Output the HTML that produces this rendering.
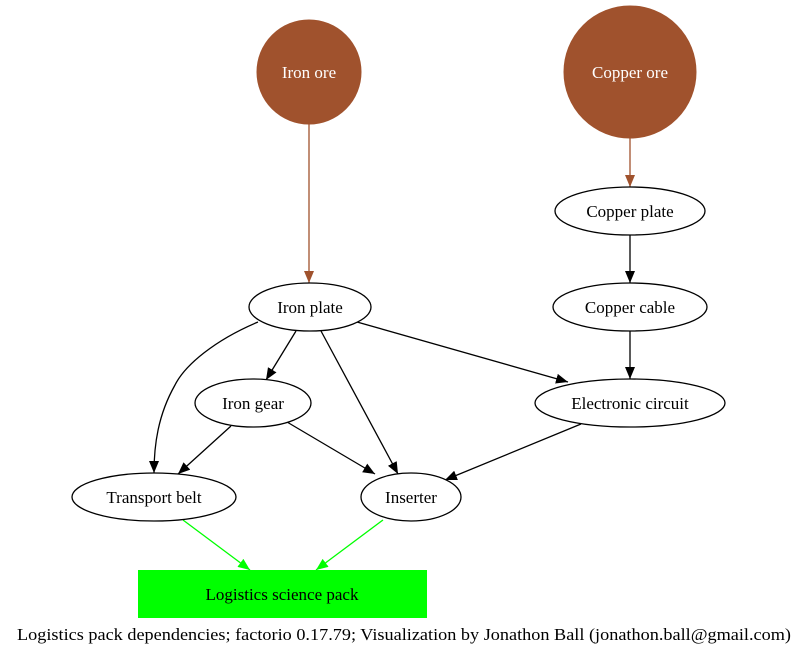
<!DOCTYPE html>
<html><head><meta charset="utf-8"><style>body{margin:0;background:#fff}svg{display:block}text{font-family:"Liberation Serif",serif;font-size:17px}</style></head>
<body>
<svg width="808" height="655" viewBox="0 0 808 655">
<defs>
<marker id="k" markerWidth="14" markerHeight="12" refX="12" refY="5" orient="auto" markerUnits="userSpaceOnUse"><path d="M0,0 L12,5 L0,10Z" fill="#000"/></marker>
<marker id="b" markerWidth="14" markerHeight="12" refX="12" refY="5" orient="auto" markerUnits="userSpaceOnUse"><path d="M0,0 L12,5 L0,10Z" fill="#a0522d"/></marker>
<marker id="g" markerWidth="14" markerHeight="12" refX="12" refY="5" orient="auto" markerUnits="userSpaceOnUse"><path d="M0,0 L12,5 L0,10Z" fill="#00ff00"/></marker>
</defs>
<g fill="none" stroke="#000" stroke-width="1.3" marker-end="url(#k)">
<path d="M630,235 L630,283"/>
<path d="M630,331 L630,379"/>
<path d="M296,331 L266,380"/>
<path d="M258,322 C215,340 185,365 175,385 C158,415 154,445 154,473"/>
<path d="M321,331 L398,474"/>
<path d="M357,322 L568,382"/>
<path d="M231,426 L178,474"/>
<path d="M287,422 L375,474"/>
<path d="M581,424 L445,480"/>
</g>
<g fill="none" stroke="#a0522d" stroke-width="1.3" marker-end="url(#b)">
<path d="M309,124 L309,283"/>
<path d="M630,138 L630,187"/>
</g>
<g fill="none" stroke="#00ff00" stroke-width="1.3" marker-end="url(#g)">
<path d="M183,520 L250,570"/>
<path d="M383,520 L316,570"/>
</g>
<circle cx="309" cy="72" r="52" fill="#a0522d" stroke="#a0522d"/>
<circle cx="630" cy="72" r="66" fill="#a0522d" stroke="#a0522d"/>
<g fill="#fff" stroke="#000" stroke-width="1.3">
<ellipse cx="630" cy="211" rx="75" ry="24"/>
<ellipse cx="310" cy="307" rx="61" ry="24"/>
<ellipse cx="630" cy="307" rx="77" ry="24"/>
<ellipse cx="253" cy="403" rx="58" ry="24"/>
<ellipse cx="630" cy="403" rx="95" ry="24"/>
<ellipse cx="154" cy="497" rx="82" ry="24"/>
<ellipse cx="411" cy="497" rx="50" ry="24"/>
</g>
<rect x="138" y="570" width="289" height="48" fill="#00ff00"/>
<g text-anchor="middle">
<text x="309" y="78" fill="#fff">Iron ore</text>
<text x="630" y="78" fill="#fff">Copper ore</text>
<text x="630" y="217">Copper plate</text>
<text x="310" y="313">Iron plate</text>
<text x="630" y="313">Copper cable</text>
<text x="253" y="409">Iron gear</text>
<text x="630" y="409">Electronic circuit</text>
<text x="154" y="503">Transport belt</text>
<text x="411" y="503">Inserter</text>
<text x="282" y="600">Logistics science pack</text>
<text x="404" y="640" textLength="774" lengthAdjust="spacingAndGlyphs">Logistics pack dependencies; factorio 0.17.79; Visualization by Jonathon Ball (jonathon.ball@gmail.com)</text>
</g>
</svg>
</body></html>
